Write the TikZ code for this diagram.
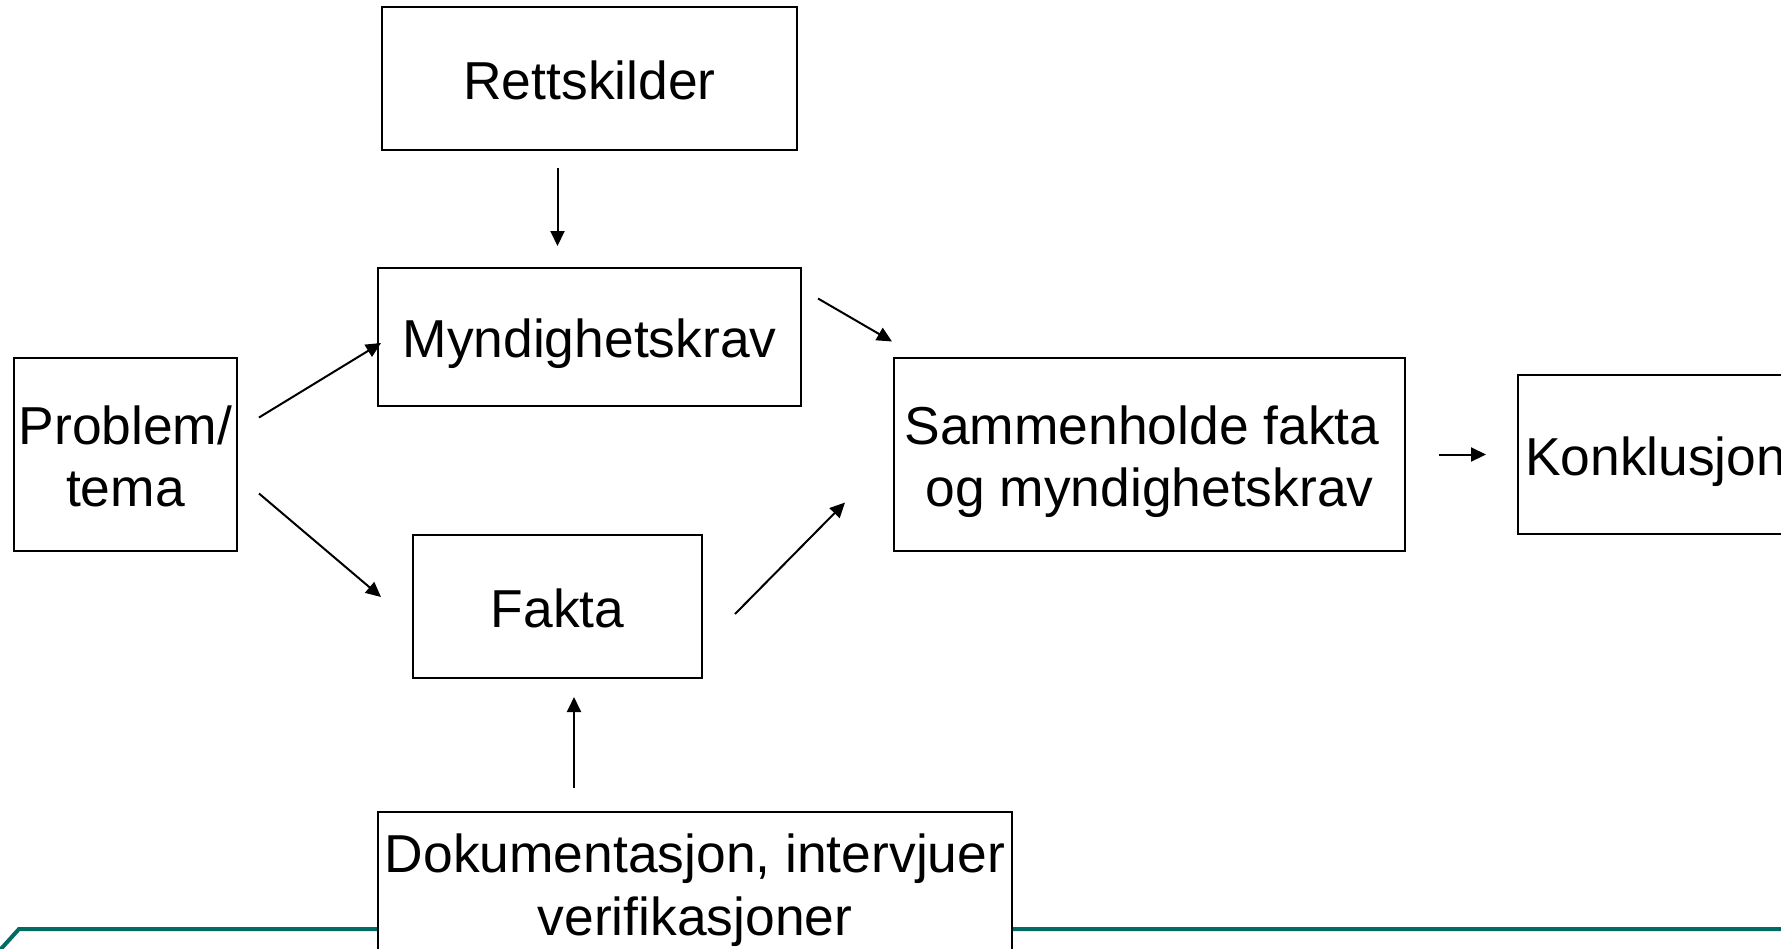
\documentclass[tikz,border=0pt]{standalone}
\usepackage{fontspec}
\setmainfont{Liberation Sans}
\usetikzlibrary{arrows.meta,calc}
\definecolor{linegreen}{RGB}{0,107,99}
\lineskiplimit=-50pt
\newcommand{\boxstrut}{\leavevmode\vrule width 0pt height 1em depth 0.22em\relax}
\tikzset{
  box/.style={draw, fill=white, line width=1pt, align=center, inner xsep=2pt,
    execute at begin node=\boxstrut, execute at end node=\boxstrut},
  arr/.style={-{Triangle[length=7.5pt,width=7pt]}, line width=1pt}
}
\begin{document}
\begin{tikzpicture}[x=0.5pt, y=-0.5pt, font=\fontsize{26.7}{31.2}\selectfont]
                \useasboundingbox (0,0) rectangle (1781,948);
                \draw[linegreen, line width=2pt] (0,950) -- (19,929) -- (1790,929);

                \node[box, minimum width=207.5pt, minimum height=71.5pt] (R) at (589.5,78.5) {Rettskilder};
                \node[box, minimum width=211.5pt, minimum height=69pt] (M) at (589.5,337) {Myndighetskrav};
                \node[box, minimum width=111.5pt, minimum height=96.5pt] (P) at (125.5,454.5) {\boxstrut Problem/\\tema};
                \node[box, minimum width=144.5pt, minimum height=71.5pt] (F) at (557.5,606.5) {Fakta};
                \node[box, minimum width=255.5pt, minimum height=96.5pt] (S) at (1149.5,454.5) {\boxstrut Sammenholde fakta\kern0.278em\\og myndighetskrav};
                \node[box, anchor=west, inner xsep=3.5pt, minimum height=79.5pt] (K) at (1517,454.5) {Konklusjon};
                \node[box, minimum width=317pt, minimum height=71pt] (D) at (695,883) {\boxstrut Dokumentasjon, intervjuer\\verifikasjoner};

                \draw[arr] ($(R.south)+(-32,17)$) -- ($(M.north)+(-32,-21)$);
                \draw[arr] ($(P.east)+(21,-37)$) -- ($(M.west)+(4,6)$);
                \draw[arr] ($(P.east)+(21,39)$) -- ($(F.west)+(-31,-9.5)$);
                \draw[arr] ($(M.east)+(16,-38.5)$) -- ($(S.west)+(-1,-113)$);
                \draw[arr] ($(F.east)+(32,7.5)$) -- ($(S.west)+(-48,48)$);
                \draw[arr] ($(S.east)+(33,0)$) -- ($(K.west)+(-31,0)$);
                \draw[arr] ($(D.north)+(-121,-23)$) -- ($(F.south)+(16.5,18)$);
            \end{tikzpicture}
\end{document}
